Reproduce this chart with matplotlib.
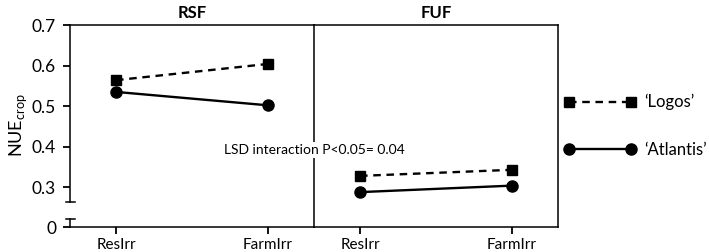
import matplotlib
matplotlib.use('Agg')
import matplotlib.pyplot as plt

plt.rcParams['font.family'] = ['Lato', 'DejaVu Sans']
plt.rcParams['mathtext.fontset'] = 'custom'
plt.rcParams['mathtext.rm'] = 'Lato'

# data
panels = ['RSF', 'FUF']
categories = ['ResIrr', 'FarmIrr']
logos = {'RSF': [0.564, 0.604], 'FUF': [0.328, 0.343]}
atlantis = {'RSF': [0.535, 0.502], 'FUF': [0.288, 0.304]}
y_ticks = [0.202, 0.3, 0.4, 0.5, 0.6, 0.7]
y_tick_labels = ['0', '0.3', '0.4', '0.5', '0.6', '0.7']
lsd_text = 'LSD interaction P<0.05= 0.04'

y_bottom, y_top = 0.202, 0.7
break_hi, break_lo = 0.2637, 0.2225

fig = plt.figure(figsize=(7.09, 2.52), dpi=100)
W, H = 709, 252
left_px, div_px, right_px = 70, 314, 558
top_px, bot_px = 25, 227
pw = (div_px - left_px) / W
ph = (bot_px - top_px) / H
ax1 = fig.add_axes([left_px / W, 1 - bot_px / H, pw, ph])
ax2 = fig.add_axes([div_px / W, 1 - bot_px / H, (right_px - div_px) / W, ph])

lw_spine = 1.1
for ax, name in zip([ax1, ax2], panels):
    x = list(range(len(categories)))
    ax.plot(x, logos[name], color='black', lw=1.7, ls=(0, (3.2, 2.4)),
            marker='s', ms=7.5, clip_on=False, zorder=3, label='\u2018Logos\u2019')
    ax.plot(x, atlantis[name], color='black', lw=1.7, ls='-',
            marker='o', ms=8, clip_on=False, zorder=3, label='\u2018Atlantis\u2019')
    ax.set_xlim(-0.303, 1.303)
    ax.set_ylim(y_bottom, y_top)
    ax.set_xticks(x)
    ax.set_xticklabels(categories, fontsize=11)
    ax.tick_params(axis='x', direction='out', length=5, width=1.3, pad=3)
    for s in ax.spines.values():
        s.set_linewidth(lw_spine)
    ax.set_title(name, fontsize=12, fontweight='bold', pad=5)

ax1.spines['right'].set_visible(False)
ax1.set_yticks(y_ticks)
ax1.set_yticklabels(y_tick_labels, fontsize=12.5)
ax1.tick_params(axis='y', direction='out', length=5, width=1.3, pad=5)
ax1.spines['left'].set_bounds(break_hi, y_top)
tr = ax1.get_yaxis_transform()
cap = 4.5 / (div_px - left_px)
ax1.plot([0, 0], [y_bottom, break_lo], color='black', lw=lw_spine,
         transform=tr, clip_on=False)
ax1.plot([-cap, cap], [break_hi, break_hi], color='black', lw=lw_spine,
         transform=tr, clip_on=False)
ax1.plot([-cap, cap], [break_lo, break_lo], color='black', lw=lw_spine,
         transform=tr, clip_on=False)

ax2.set_yticks([])

fig.text(18 / W, 1 - 125 / H, r'NUE$_\mathregular{crop}$', rotation=90,
         ha='center', va='center', fontsize=13)

fig.text(div_px / W, 1 - 150 / H, lsd_text, ha='center', va='center',
         fontsize=10, bbox=dict(facecolor='white', edgecolor='none', pad=1.5))

handles, labels = ax2.get_legend_handles_labels()
fig.legend(handles, labels, loc='center left',
           bbox_to_anchor=(564 / W, 1 - 126 / H), frameon=False,
           numpoints=2, handlelength=4.3, handletextpad=0.5,
           labelspacing=1.9, fontsize=12, borderpad=0, borderaxespad=0)

fig.savefig('out.png', dpi=100)
